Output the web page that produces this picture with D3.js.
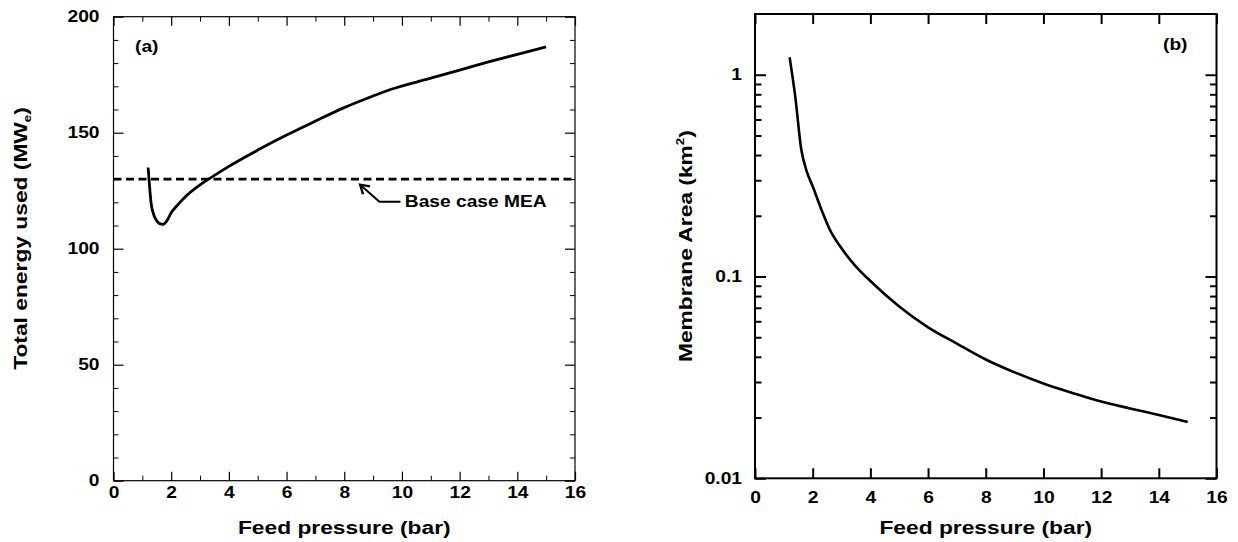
<!DOCTYPE html>
<html>
<head>
<meta charset="utf-8">
<script src="https://cdn.jsdelivr.net/npm/d3@7"></script>
<style>
  html, body { margin: 0; padding: 0; background: #fff; }
  svg { display: block; }
  text { font-family: "Liberation Sans", Arial, Helvetica, sans-serif; font-weight: bold; fill: #000; }
</style>
</head>
<body>
<svg id="chart" width="1238" height="542"></svg>
<script>
// Panel (a): total energy used vs feed pressure
const pressureA = [1.2, 1.25, 1.3, 1.4, 1.5, 1.6, 1.72, 1.85, 2.0, 2.2, 2.5, 3.0, 3.3, 4.0, 5.0, 6.0, 7.0, 8.0, 9.0, 9.6, 11.0, 12.0, 13.0, 14.0, 15.0];
const energyA   = [135, 127, 120, 114.5, 112, 110.8, 110.5, 112, 115.5, 118.5, 122.5, 127.5, 130, 135.5, 142.5, 149, 155, 160.8, 165.8, 168.6, 173.5, 177, 180.5, 183.8, 187];
const baseCaseMEA = 130;

// Panel (b): membrane area vs feed pressure
const pressureB = [1.2, 1.4, 1.6, 1.8, 2.0, 2.3, 2.6, 3.0, 3.5, 4.0, 5.0, 6.0, 7.0, 8.0, 9.0, 10.0, 11.0, 12.0, 13.0, 14.0, 15.0];
const areaB     = [1.22, 0.77, 0.43, 0.33, 0.28, 0.215, 0.17, 0.138, 0.112, 0.095, 0.071, 0.056, 0.0465, 0.0388, 0.0335, 0.0295, 0.0265, 0.024, 0.0222, 0.0206, 0.019];

// Tick values
const xMajorTicks = [0, 2, 4, 6, 8, 10, 12, 14, 16];
const xMinorTicksA = [1, 3, 5, 7, 9, 11, 13, 15];
const yMajorTicksA = [0, 50, 100, 150, 200];
const yMinorTicksA = [10, 20, 30, 40, 60, 70, 80, 90, 110, 120, 130, 140, 160, 170, 180, 190];
const yMajorTicksB = [0.01, 0.1, 1];
const yMinorTicksB = [0.02, 0.03, 0.04, 0.05, 0.06, 0.07, 0.08, 0.09, 0.2, 0.3, 0.4, 0.5, 0.6, 0.7, 0.8, 0.9];

const svg = d3.select("#chart");
const TICK_FONT = 16;
const TITLE_FONT = 19;
const WIDE = 1.2;   // lettering is drawn horizontally widened

function styleAxis(g, width) {
  g.select(".domain").remove();
  g.selectAll(".tick line").attr("stroke", "#000").attr("stroke-width", width);
  g.selectAll(".tick text").style("font-size", TICK_FONT + "px");
}
// widen tick labels about their anchor point
function widenLeftLabels(g, pad) {
  g.selectAll(".tick text").attr("x", 0).attr("transform", `translate(${-pad},0) scale(${WIDE},1)`);
}
function widenBottomLabels(g) {
  g.selectAll(".tick text").attr("transform", `scale(${WIDE},1)`);
}
function wideText(parent, x, y, size, anchor, rotate) {
  return parent.append("text")
    .attr("transform", `translate(${x},${y})${rotate ? " rotate(-90)" : ""} scale(${WIDE},1)`)
    .attr("text-anchor", anchor)
    .style("font-size", size + "px");
}

// ---------- Panel (a) ----------
const pa = { left: 113.5, right: 575, top: 16.7, bottom: 480.7 };
const xA = d3.scaleLinear().domain([0, 16]).range([pa.left, pa.right]);
const yA = d3.scaleLinear().domain([0, 200]).range([pa.bottom, pa.top]);
const gA = svg.append("g");

gA.append("g").attr("transform", `translate(0,${pa.bottom})`)
  .call(d3.axisBottom(xA).tickValues(xMajorTicks).tickSize(-9).tickPadding(5.5).tickFormat(d3.format("d")))
  .call(g => styleAxis(g, 1.2)).call(widenBottomLabels);
gA.append("g").attr("transform", `translate(0,${pa.bottom})`)
  .call(d3.axisBottom(xA).tickValues(xMinorTicksA).tickSize(-5).tickFormat(""))
  .call(g => styleAxis(g, 1));
gA.append("g").attr("transform", `translate(0,${pa.top})`)
  .call(d3.axisTop(xA).tickValues(xMajorTicks).tickSize(-9).tickFormat(""))
  .call(g => styleAxis(g, 1.2));
gA.append("g").attr("transform", `translate(0,${pa.top})`)
  .call(d3.axisTop(xA).tickValues(xMinorTicksA).tickSize(-5).tickFormat(""))
  .call(g => styleAxis(g, 1));
gA.append("g").attr("transform", `translate(${pa.left},0)`)
  .call(d3.axisLeft(yA).tickValues(yMajorTicksA).tickSize(-10).tickPadding(14).tickFormat(d3.format("d")))
  .call(g => styleAxis(g, 1.2)).call(g => widenLeftLabels(g, 14));
gA.append("g").attr("transform", `translate(${pa.left},0)`)
  .call(d3.axisLeft(yA).tickValues(yMinorTicksA).tickSize(-5).tickFormat(""))
  .call(g => styleAxis(g, 1));
gA.append("g").attr("transform", `translate(${pa.right},0)`)
  .call(d3.axisRight(yA).tickValues(yMajorTicksA).tickSize(-10).tickFormat(""))
  .call(g => styleAxis(g, 1.2));
gA.append("g").attr("transform", `translate(${pa.right},0)`)
  .call(d3.axisRight(yA).tickValues(yMinorTicksA).tickSize(-5).tickFormat(""))
  .call(g => styleAxis(g, 1));

gA.append("rect")
  .attr("x", pa.left).attr("y", pa.top)
  .attr("width", pa.right - pa.left).attr("height", pa.bottom - pa.top)
  .attr("fill", "none").attr("stroke", "#000").attr("stroke-width", 1.2);

// Base case MEA reference line
gA.append("line")
  .attr("x1", xA(0)).attr("x2", xA(16))
  .attr("y1", yA(baseCaseMEA)).attr("y2", yA(baseCaseMEA))
  .attr("stroke", "#000").attr("stroke-width", 2.6)
  .attr("stroke-dasharray", "8,4.5");

// Energy curve
const lineA = d3.line().x((d, i) => xA(pressureA[i])).y(d => yA(d)).curve(d3.curveMonotoneX);
gA.append("path").datum(energyA)
  .attr("d", lineA)
  .attr("fill", "none").attr("stroke", "#000").attr("stroke-width", 2.8)
  .attr("stroke-linejoin", "round");

// Annotation arrow pointing at the reference line
const arrowTip = [8.55, 127.6], arrowElbow = [9.22, 120.2], arrowEnd = [9.95, 120.2];
const tip = [xA(arrowTip[0]), yA(arrowTip[1])];
const elbow = [xA(arrowElbow[0]), yA(arrowElbow[1])];
gA.append("path")
  .attr("d", `M${xA(arrowEnd[0])},${elbow[1]}L${elbow[0]},${elbow[1]}L${tip[0]},${tip[1]}`)
  .attr("fill", "none").attr("stroke", "#000").attr("stroke-width", 2);
{
  const ang = Math.atan2(elbow[1] - tip[1], elbow[0] - tip[0]);
  const len = 10, spread = 0.55;
  const p1 = [tip[0] + len * Math.cos(ang - spread), tip[1] + len * Math.sin(ang - spread)];
  const p2 = [tip[0] + len * Math.cos(ang + spread), tip[1] + len * Math.sin(ang + spread)];
  gA.append("path")
    .attr("d", `M${p1[0]},${p1[1]}L${tip[0]},${tip[1]}L${p2[0]},${p2[1]}`)
    .attr("fill", "none").attr("stroke", "#000").attr("stroke-width", 2.4)
    .attr("stroke-linejoin", "miter");
}
wideText(gA, xA(10.1), yA(118), 16, "start").text("Base case MEA");
wideText(gA, 135, 52, 16, "start").text("(a)");

// Axis titles (a)
wideText(gA, (pa.left + pa.right) / 2, 534, TITLE_FONT, "middle").text("Feed pressure (bar)");
{
  const t = wideText(gA, 27, 238.5, TITLE_FONT, "middle", true);
  t.append("tspan").text("Total energy used (MW");
  t.append("tspan").attr("dy", 4).style("font-size", "11px").text("e");
  t.append("tspan").attr("dy", -4).text(")");
}

// ---------- Panel (b) ----------
const pb = { left: 755, right: 1216.5, top: 14, bottom: 478.3 };
const xB = d3.scaleLinear().domain([0, 16]).range([pb.left, pb.right]);
const yB = d3.scaleLog().domain([0.01, 2]).range([pb.bottom, pb.top]);
const gB = svg.append("g");

gB.append("g").attr("transform", `translate(0,${pb.bottom})`)
  .call(d3.axisBottom(xB).tickValues(xMajorTicks).tickSize(-10).tickPadding(13.5).tickFormat(d3.format("d")))
  .call(g => styleAxis(g, 2)).call(widenBottomLabels);
gB.append("g").attr("transform", `translate(0,${pb.top})`)
  .call(d3.axisTop(xB).tickValues(xMajorTicks).tickSize(-10).tickFormat(""))
  .call(g => styleAxis(g, 2));
gB.append("g").attr("transform", `translate(${pb.left},0)`)
  .call(d3.axisLeft(yB).tickValues(yMajorTicksB).tickSize(-11).tickPadding(13).tickFormat(d => String(d)))
  .call(g => styleAxis(g, 2)).call(g => widenLeftLabels(g, 13));
gB.append("g").attr("transform", `translate(${pb.left},0)`)
  .call(d3.axisLeft(yB).tickValues(yMinorTicksB).tickSize(-6.5).tickFormat(""))
  .call(g => styleAxis(g, 2));
gB.append("g").attr("transform", `translate(${pb.right},0)`)
  .call(d3.axisRight(yB).tickValues(yMajorTicksB).tickSize(-11).tickFormat(""))
  .call(g => styleAxis(g, 2));
gB.append("g").attr("transform", `translate(${pb.right},0)`)
  .call(d3.axisRight(yB).tickValues(yMinorTicksB).tickSize(-6.5).tickFormat(""))
  .call(g => styleAxis(g, 2));

gB.append("rect")
  .attr("x", pb.left).attr("y", pb.top)
  .attr("width", pb.right - pb.left).attr("height", pb.bottom - pb.top)
  .attr("fill", "none").attr("stroke", "#000").attr("stroke-width", 2);

const lineB = d3.line().x((d, i) => xB(pressureB[i])).y(d => yB(d)).curve(d3.curveMonotoneX);
gB.append("path").datum(areaB)
  .attr("d", lineB)
  .attr("fill", "none").attr("stroke", "#000").attr("stroke-width", 2.6)
  .attr("stroke-linejoin", "round");

wideText(gB, 1163, 50, 16, "start").text("(b)");

wideText(gB, (pb.left + pb.right) / 2, 534, TITLE_FONT, "middle").text("Feed pressure (bar)");
{
  const t = wideText(gB, 692, (pb.top + pb.bottom) / 2, TITLE_FONT, "middle", true);
  t.append("tspan").text("Membrane Area (km");
  t.append("tspan").attr("dy", -8).style("font-size", "11px").text("2");
  t.append("tspan").attr("dy", 8).text(")");
}
</script>
</body>
</html>
